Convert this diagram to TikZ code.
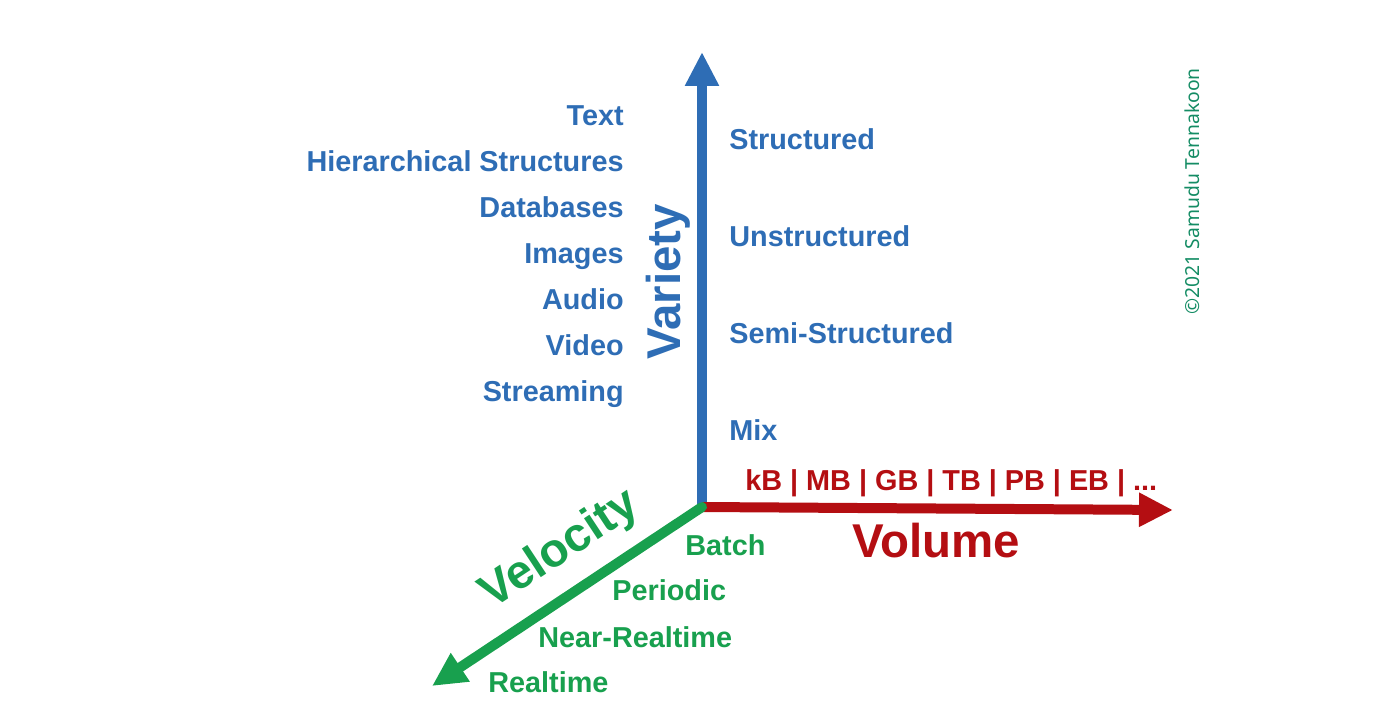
\documentclass[tikz,border=0pt]{standalone}
\usepackage{fontspec}
\setmainfont{Liberation Sans}
\newfontfamily\copyfont{Noto Sans}
\usetikzlibrary{arrows.meta}
\definecolor{cblue}{RGB}{46,109,181}
\definecolor{cred}{RGB}{180,14,18}
\definecolor{cgreen}{RGB}{24,160,78}
\definecolor{cteal}{RGB}{20,140,100}

\begin{document}
\begin{tikzpicture}[x=0.02cm, y=-0.02cm,
    >={Triangle[length=0.68cm, width=0.64cm]},
    axis/.style={->, line width=0.2cm},
    lbl/.style={font=\fontsize{16.4}{20}\selectfont\bfseries, inner sep=0pt},
    big/.style={font=\fontsize{27}{32}\selectfont\bfseries, inner sep=0pt}
  ]
  \useasboundingbox (0,0) rectangle (1400,724);

  % Axes
  \coordinate (O) at (702,507);
  \coordinate (vtop) at (702,52);
  \coordinate (vend) at (1173,510);
  \coordinate (velend) at (432,686);
  \draw[axis, cblue] (O) -- (vtop);
  \draw[axis, cred] (O) -- (vend);
  \draw[axis, cgreen, line cap=round] (O) -- (velend);

  % Variety
  \node[big, cblue, rotate=90, anchor=base west] (variety) at (680,360) {Variety};
  \foreach \t [count=\i] in {Text, Hierarchical Structures, Databases, Images, Audio, Video, Streaming}
    \node[lbl, cblue, anchor=base east] (src\i) at (624,{125+46*(\i-1)}) {\t};
  \foreach \t [count=\i] in {Structured, Unstructured, Semi-Structured, Mix}
    \node[lbl, cblue, anchor=base west] (kind\i) at (729,{149+97*(\i-1)}) {\t};

  % Volume
  \node[big, cred, anchor=base west] (volume) at (852,557) {Volume};
  \node[lbl, cred, anchor=base west] (units) at (745,490) {kB | MB | GB | TB | PB | EB | ...};

  % Velocity
  \node[big, cgreen, rotate=33.4, anchor=base west] (velocity) at (492,610) {Velocity};
  \node[lbl, cgreen, anchor=base west] (batch) at (685,555) {Batch};
  \node[lbl, cgreen, anchor=base west] (periodic) at (612,600) {Periodic};
  \node[lbl, cgreen, anchor=base west] (nearrt) at (538,647) {Near-Realtime};
  \node[lbl, cgreen, anchor=base west] (realtime) at (488,692) {Realtime};

  % Credit
  \node[cteal, rotate=90, anchor=base west, inner sep=0pt,
        font=\copyfont\fontsize{11}{13}\selectfont] (credit) at (1199,315) {©2021 Samudu Tennakoon};
\end{tikzpicture}
\end{document}
